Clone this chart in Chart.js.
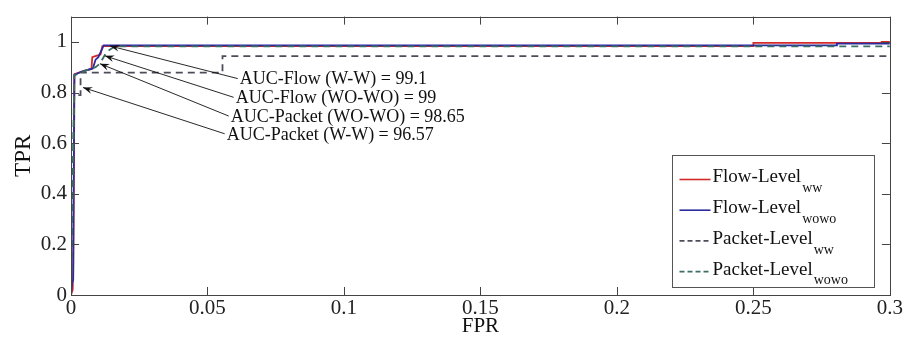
<!DOCTYPE html>
<html>
<head>
<meta charset="utf-8">
<script src="https://cdn.jsdelivr.net/npm/chart.js@4/dist/chart.umd.min.js"></script>
<style>
  html, body { margin: 0; padding: 0; background: #fff; }
  canvas { display: block; }
</style>
</head>
<body>
<canvas id="c" width="904" height="341"></canvas>
<script>
// ---- data ----
const xTickValues = [0, 0.05, 0.1, 0.15, 0.2, 0.25, 0.3];
const xTickLabels = ['0', '0.05', '0.1', '0.15', '0.2', '0.25', '0.3'];
const yTickValues = [0, 0.2, 0.4, 0.6, 0.8, 1];
const yTickLabels = ['0', '0.2', '0.4', '0.6', '0.8', '1'];

const seriesNames = ['Flow-Level', 'Flow-Level', 'Packet-Level', 'Packet-Level'];
const seriesSubs = ['ww', 'wowo', 'ww', 'wowo'];

const flowWW_fpr = [0, 0.0006, 0.0008, 0.0013, 0.0045, 0.0075, 0.0078, 0.0092, 0.0108, 0.0115, 0.25, 0.25, 0.297, 0.297, 0.3];
const flowWW_tpr = [0, 0.02, 0.08, 0.873, 0.885, 0.893, 0.940, 0.945, 0.950, 0.983, 0.983, 0.996, 0.996, 1.0, 1.0];

const flowWOWO_fpr = [0, 0.0004, 0.0008, 0.0012, 0.0045, 0.0080, 0.0090, 0.0100, 0.0120, 0.2806, 0.2806, 0.3];
const flowWOWO_tpr = [0, 0.05, 0.06, 0.870, 0.885, 0.895, 0.930, 0.940, 0.986, 0.986, 0.993, 0.993];

const pktWW_fpr = [0, 0.0012, 0.0035, 0.0035, 0.0555, 0.0555, 0.3];
const pktWW_tpr = [0, 0.790, 0.790, 0.879, 0.879, 0.944, 0.944];

const pktWOWO_fpr = [0, 0.0012, 0.0050, 0.0090, 0.0106, 0.0130, 0.0160, 0.3];
const pktWOWO_tpr = [0, 0.868, 0.885, 0.900, 0.914, 0.960, 0.982, 0.982];

const annLabels = ['AUC-Flow (W-W) = 99.1', 'AUC-Flow (WO-WO) = 99', 'AUC-Packet (WO-WO) = 98.65', 'AUC-Packet (W-W) = 96.57'];
const annTipX = [0.0143, 0.0124, 0.0106, 0.0044];
const annTipY = [0.984, 0.945, 0.914, 0.820];
const annTextX = [0.0611, 0.0596, 0.0578, 0.0563];
const annTextY = [0.855, 0.781, 0.707, 0.637];

// ---- build ----
const pts = (xs, ys) => xs.map((x, i) => ({ x, y: ys[i] }));
const colors = ['#d42a2a', '#2b2ba0', '#4d4d5a', '#3a6e66'];
const dashes = [[], [], [7, 5], [7, 5]];
const serif = "'Liberation Serif', 'Times New Roman', serif";

const datasets = [
  { data: pts(flowWW_fpr, flowWW_tpr), order: 4 },
  { data: pts(flowWOWO_fpr, flowWOWO_tpr), order: 3 },
  { data: pts(pktWW_fpr, pktWW_tpr), order: 2 },
  { data: pts(pktWOWO_fpr, pktWOWO_tpr), order: 1 }
].map((d, i) => Object.assign(d, {
  showLine: true, borderColor: colors[i], borderWidth: 1.8, borderDash: dashes[i],
  pointRadius: 0, fill: false, tension: 0
}));

const overlay = {
  id: 'overlay',
  afterDraw(chart) {
    const { ctx, chartArea: a, scales: { x, y } } = chart;
    ctx.save();
    // axes box
    ctx.strokeStyle = '#444';
    ctx.lineWidth = 1;
    ctx.strokeRect(Math.round(a.left) + 0.5, Math.round(a.top) + 0.5, Math.round(a.right - a.left), Math.round(a.bottom - a.top));
    // inward ticks on all four sides
    const tl = 8;
    ctx.beginPath();
    xTickValues.forEach(v => {
      const px = Math.round(x.getPixelForValue(v)) + 0.5;
      ctx.moveTo(px, a.bottom); ctx.lineTo(px, a.bottom - tl);
      ctx.moveTo(px, a.top); ctx.lineTo(px, a.top + tl);
    });
    yTickValues.forEach(v => {
      const py = Math.round(y.getPixelForValue(v)) + 0.5;
      ctx.moveTo(a.left, py); ctx.lineTo(a.left + tl, py);
      ctx.moveTo(a.right, py); ctx.lineTo(a.right - tl, py);
    });
    ctx.stroke();

    // annotations with arrows
    ctx.fillStyle = '#111';
    ctx.strokeStyle = '#111';
    ctx.font = '18px ' + serif;
    ctx.textBaseline = 'middle';
    ctx.textAlign = 'left';
    annLabels.forEach((t, i) => {
      const tx = x.getPixelForValue(annTextX[i]);
      const ty = y.getPixelForValue(annTextY[i]);
      const hx = x.getPixelForValue(annTipX[i]);
      const hy = y.getPixelForValue(annTipY[i]);
      ctx.fillText(t, tx + 2, ty + 1);
      ctx.lineWidth = 0.9;
      ctx.beginPath(); ctx.moveTo(tx, ty); ctx.lineTo(hx, hy); ctx.stroke();
      const ang = Math.atan2(ty - hy, tx - hx);
      const L = 10, w = 0.35;
      ctx.beginPath();
      ctx.moveTo(hx, hy);
      ctx.lineTo(hx + L * Math.cos(ang + w), hy + L * Math.sin(ang + w));
      ctx.lineTo(hx + L * 0.6 * Math.cos(ang), hy + L * 0.6 * Math.sin(ang));
      ctx.lineTo(hx + L * Math.cos(ang - w), hy + L * Math.sin(ang - w));
      ctx.closePath();
      ctx.fill();
    });

    // legend
    const bw = 202, bh = 132;
    const bx = Math.round(a.right - 16 - bw) + 0.5;
    const by = Math.round(a.bottom - 8 - bh) + 0.5;
    ctx.fillStyle = '#fff';
    ctx.fillRect(bx, by, bw, bh);
    ctx.strokeStyle = '#555';
    ctx.lineWidth = 1;
    ctx.strokeRect(bx, by, bw, bh);
    seriesNames.forEach((n, i) => {
      const cy = by + 22 + i * 30.7;
      ctx.strokeStyle = colors[i];
      ctx.lineWidth = 1.6;
      ctx.setLineDash(dashes[i].length ? [5, 3] : []);
      ctx.beginPath(); ctx.moveTo(bx + 7, cy + 2); ctx.lineTo(bx + 38, cy + 2); ctx.stroke();
      ctx.setLineDash([]);
      ctx.fillStyle = '#111';
      ctx.font = '19px ' + serif;
      ctx.fillText(n, bx + 40, cy);
      const w = ctx.measureText(n).width;
      ctx.font = '14px ' + serif;
      ctx.fillText(seriesSubs[i], bx + 40 + w + 1, cy + 11);
    });
    ctx.restore();
  }
};

new Chart(document.getElementById('c'), {
  type: 'scatter',
  data: { datasets },
  options: {
    responsive: false,
    animation: false,
    events: [],
    layout: { padding: { top: 13, right: 13, left: 0, bottom: 0 } },
    plugins: { legend: { display: false }, tooltip: { enabled: false } },
    scales: {
      x: {
        type: 'linear', min: 0, max: 0.3,
        afterBuildTicks: s => { s.ticks = xTickValues.map(v => ({ value: v })); },
        afterFit: s => { s.height = 46; },
        ticks: {
          autoSkip: false, maxRotation: 0, padding: 1, color: '#222',
          font: { family: serif, size: 21 },
          callback: (v) => xTickLabels[xTickValues.indexOf(v)] ?? ''
        },
        grid: { display: false, drawTicks: false },
        border: { display: false },
        title: { display: true, text: 'FPR', color: '#111', font: { family: serif, size: 21 }, padding: { top: 0, bottom: 2 } }
      },
      y: {
        type: 'linear', min: 0, max: 1.1,
        afterBuildTicks: s => { s.ticks = yTickValues.map(v => ({ value: v })); },
        afterFit: s => { s.width = 71; },
        ticks: {
          autoSkip: false, padding: 4, color: '#222',
          font: { family: serif, size: 21 },
          callback: (v) => yTickLabels[yTickValues.indexOf(v)] ?? ''
        },
        grid: { display: false, drawTicks: false },
        border: { display: false },
        title: { display: true, text: 'TPR', color: '#111', font: { family: serif, size: 23 }, padding: { top: 10, bottom: 0 } }
      }
    }
  },
  plugins: [overlay]
});
</script>
</body>
</html>
